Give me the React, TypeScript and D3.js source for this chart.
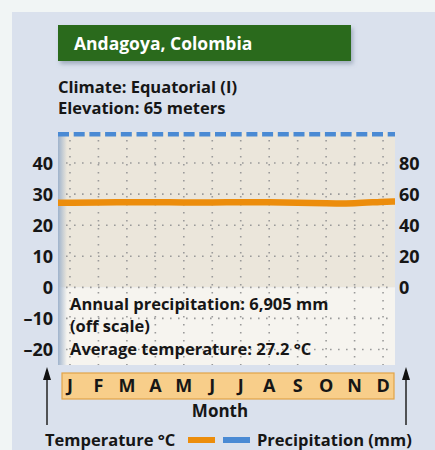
import React from "react";
import * as d3 from "d3";

const months = ["J", "F", "M", "A", "M2", "J2", "J3", "A2", "S", "O", "N", "D"];
const monthLabels = ["J", "F", "M", "A", "M", "J", "J", "A", "S", "O", "N", "D"];
const temperature = [27.2, 27.3, 27.4, 27.4, 27.3, 27.3, 27.4, 27.4, 27.2, 27.0, 27.0, 27.6];
const tempTicks = [40, 30, 20, 10, 0, -10, -20];
const precipTicks = [80, 60, 40, 20, 0];

const FONT = "'Open Sans', 'DejaVu Sans', sans-serif";
const INK = "#161616";

export default function App() {
  const left = 58, right = 395, top = 132, bottom = 365;
  const x = d3.scalePoint<string>().domain(months).range([left, right]).padding(0.42);
  const yT = d3.scaleLinear().domain([-25, 50]).range([bottom, top]);
  const yP = d3.scaleLinear().domain([-50, 100]).range([bottom, top]);

  const pts: [number, number][] = temperature.map((t, i) => [x(months[i]) as number, yT(t)]);
  const linePts: [number, number][] = [[left, yT(temperature[0])], ...pts, [right, yT(temperature[11])]];
  const line = d3.line().curve(d3.curveBasis)(linePts) || "";

  return (
    <svg width={435} height={450} style={{ position: "absolute", left: 0, top: 0 }} fontFamily={FONT}>
      <defs>
        <linearGradient id="shade" x1="0" x2="1" y1="0" y2="0">
          <stop offset="0" stopColor="#9fb3cc" />
          <stop offset="1" stopColor="#9fb3cc" stopOpacity="0" />
        </linearGradient>
        <filter id="sh" x="-10%" y="-20%" width="130%" height="160%">
          <feDropShadow dx="2" dy="3" stdDeviation="2" floodColor="#7a8aa0" floodOpacity="0.6" />
        </filter>
      </defs>
      <rect x={0} y={0} width={435} height={450} fill="#f1f5f5" />
      <rect x={12} y={12} width={423} height={438} fill="#dae1ed" />

      {/* Title */}
      <rect x={58} y={25} width={293} height={36} fill="#2b6b1d" filter="url(#sh)" />
      <text x={74} y={50} fill="#ffffff" fontSize={17.5} fontWeight="bold">Andagoya, Colombia</text>
      <text x={58} y={93} fill={INK} fontSize={16.5} fontWeight="bold">Climate: Equatorial (I)</text>
      <text x={58} y={114} fill={INK} fontSize={16.5} fontWeight="bold">Elevation: 65 meters</text>

      {/* Plot backgrounds */}
      <rect x={left} y={top} width={right - left} height={yT(0) - top} fill="#ebe6db" />
      <rect x={left} y={yT(0)} width={right - left} height={bottom - yT(0)} fill="#f6f4ef" />
      <rect x={left} y={top} width={9} height={bottom - top} fill="url(#shade)" />

      {/* Grid */}
      {tempTicks.map((t) => (
        <line key={"h" + t} x1={left + 8} x2={right - 2} y1={yT(t)} y2={yT(t)}
          stroke="#9a9a9a" strokeWidth={1.6} strokeDasharray="1.6 6.4" />
      ))}
      {months.map((m) => (
        <line key={"v" + m} x1={x(m)} x2={x(m)} y1={top + 8} y2={bottom}
          stroke="#9a9a9a" strokeWidth={1.6} strokeDasharray="1.6 6.4" />
      ))}

      {/* Precipitation off scale (top) */}
      <line x1={left} x2={right} y1={yP(98.5)} y2={yP(98.5)} stroke="#4a8ad4" strokeWidth={4.5} strokeDasharray="11 4.7" />

      {/* Temperature line */}
      <path d={line} fill="none" stroke="#ec8d0c" strokeWidth={6.5} strokeLinecap="butt" />

      {/* Axis labels */}
      {tempTicks.map((t) => (
        <text key={"lt" + t} x={53} y={yT(t)} dy="0.36em" textAnchor="end" fill={INK} fontSize={18} fontWeight="bold">
          {t < 0 ? "\u2013" + Math.abs(t) : t}
        </text>
      ))}
      {precipTicks.map((p) => (
        <text key={"rp" + p} x={399} y={yP(p)} dy="0.36em" textAnchor="start" fill={INK} fontSize={18} fontWeight="bold">
          {p}
        </text>
      ))}

      {/* Annotations */}
      <text x={70} y={310} fill={INK} fontSize={16.5} fontWeight="bold">Annual precipitation: 6,905 mm</text>
      <text x={70} y={332} fill={INK} fontSize={16.5} fontWeight="bold">(off scale)</text>
      <text x={70} y={355} fill={INK} fontSize={16.5} fontWeight="bold">Average temperature: 27.2 °C</text>

      {/* Month strip */}
      <rect x={62} y={373} width={332} height={26} fill="#f8ce8a" stroke="#e2a448" strokeWidth={1.2} />
      {months.map((m, i) => (
        <text key={"m" + m} x={x(m)} y={392} textAnchor="middle" fill={INK} fontSize={18} fontWeight="bold">
          {monthLabels[i]}
        </text>
      ))}
      <text x={220} y={417} textAnchor="middle" fill={INK} fontSize={17} fontWeight="bold">Month</text>

      {/* Arrows */}
      {[47, 406].map((ax) => (
        <g key={"ar" + ax}>
          <line x1={ax} x2={ax} y1={425} y2={376} stroke="#222" strokeWidth={1.5} />
          <path d={`M${ax},${367} L${ax - 4},${380} L${ax + 4},${380} Z`} fill="#111" />
        </g>
      ))}

      {/* Legend */}
      <text x={45} y={446} fill={INK} fontSize={16.5} fontWeight="bold">Temperature °C</text>
      <rect x={188} y={437} width={27} height={6} fill="#ec8d0c" />
      <rect x={223} y={437} width={27} height={6} fill="#4a8ad4" />
      <text x={257} y={446} fill={INK} fontSize={16.5} fontWeight="bold">Precipitation (mm)</text>
    </svg>
  );
}
